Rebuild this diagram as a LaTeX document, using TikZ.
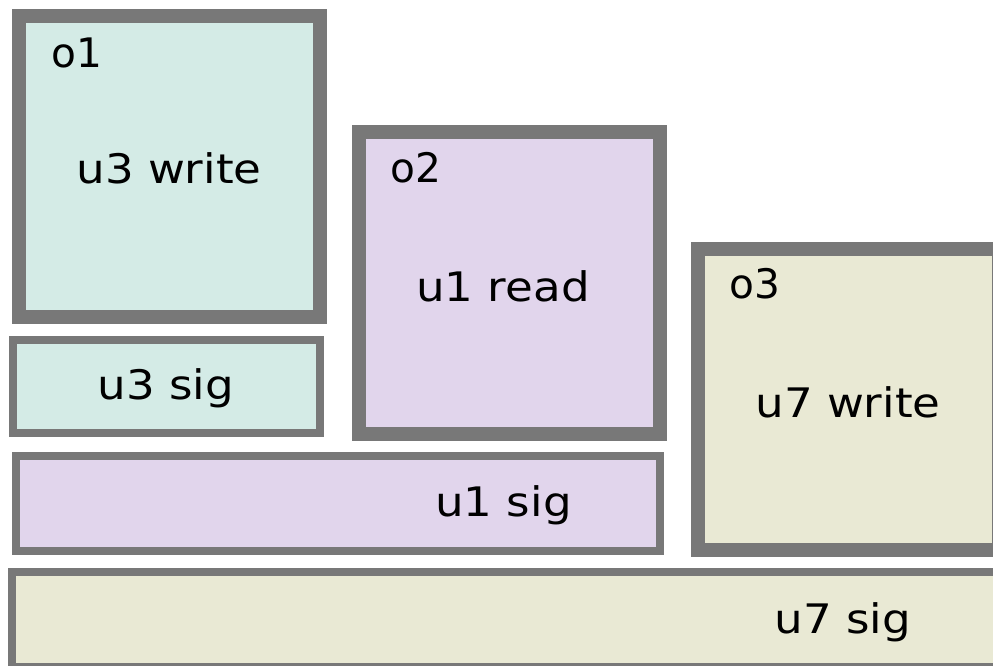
\documentclass[tikz,border=0pt]{standalone}
\usepackage{fontspec}
\setmainfont{DejaVu Sans}
\newfontfamily\widefont[FakeStretch=1.11]{DejaVu Sans}
\definecolor{edgegray}{HTML}{787878}
\definecolor{tealfill}{HTML}{D4EBE6}
\definecolor{lilacfill}{HTML}{E1D5EC}
\definecolor{sandfill}{HTML}{E9E9D4}
\tikzset{
  bigbox/.style={draw=edgegray, line width=10.5pt, rectangle, inner sep=0pt,
    minimum width=226pt, minimum height=226pt},
  sigbox/.style={draw=edgegray, line width=6pt, rectangle, inner sep=0pt},
  tag/.style={inner sep=0pt, anchor=base west, font=\fontsize{30.5pt}{36pt}\selectfont},
  lbl/.style={inner sep=0pt, anchor=base, font=\widefont\fontsize{30.5pt}{36pt}\selectfont},
}
\begin{document}
\begin{tikzpicture}[x=0.75pt, y=-0.75pt]
\useasboundingbox (0,0) rectangle (993,666);
% operation boxes
\node[bigbox, fill=tealfill]  (o1) at (169.75,166.5) {};
\node[bigbox, fill=lilacfill] (o2) at (509.5,283) {};
\node[bigbox, fill=sandfill]  (o3) at (848.5,399.5) {};
% signal bars
\node[sigbox, fill=tealfill,  minimum width=230.6pt, minimum height=69.75pt] (s3) at (166.75,386.5) {};
\node[sigbox, fill=lilacfill, minimum width=483pt,   minimum height=70.9pt]  (s1) at (338,503.25) {};
\node[sigbox, fill=sandfill,  minimum width=744pt,   minimum height=71.25pt] (s7) at (508,619.5) {};
% box tags
\node[tag] (t1) at (51,68)  {o1};
\node[tag] (t2) at (390,183) {o2};
\node[tag] (t3) at (729,299) {o3};
% operation and signal texts
\node[lbl] (w3) at (169,184) {u3 write};
\node[lbl] (r1) at (503,302) {u1 read};
\node[lbl] (w7) at (848,418) {u7 write};
\node[lbl] (g3) at (166,400) {u3 sig};
\node[lbl] (g1) at (503.5,517) {u1 sig};
\node[lbl] (g7) at (843,633) {u7 sig};
\end{tikzpicture}
\end{document}
